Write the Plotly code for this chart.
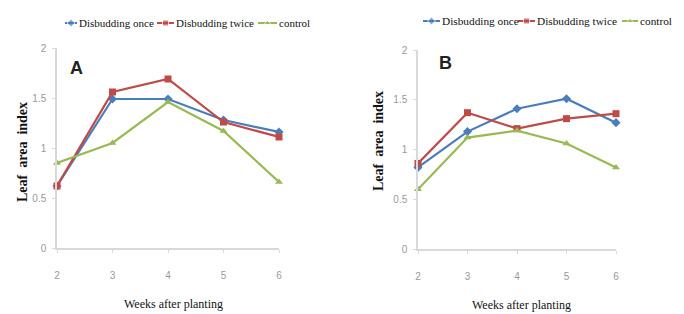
import plotly.graph_objects as go
from plotly.subplots import make_subplots

weeks = [2, 3, 4, 5, 6]
a_once = [0.62, 1.49, 1.49, 1.28, 1.16]
a_twice = [0.62, 1.56, 1.69, 1.26, 1.11]
a_control = [0.85, 1.05, 1.46, 1.17, 0.66]
b_once = [0.82, 1.18, 1.41, 1.51, 1.27]
b_twice = [0.86, 1.37, 1.21, 1.31, 1.36]
b_control = [0.60, 1.12, 1.19, 1.06, 0.82]
series_names = ["Disbudding once", "Disbudding twice", "control"]
y_ticks = [0, 0.5, 1, 1.5, 2]
y_ticklabels = ["0", "0.5", "1", "1.5", "2"]

colors = ["#4a7ebb", "#be4b48", "#98b954"]
symbols = ["diamond", "square", "triangle-up"]

W, H = 684, 314
fig = make_subplots(rows=1, cols=2)

for col, data in [(1, [a_once, a_twice, a_control]), (2, [b_once, b_twice, b_control])]:
    for i, ys in enumerate(data):
        fig.add_trace(go.Scatter(
            x=weeks, y=ys, mode="lines+markers", name=series_names[i],
            line=dict(color=colors[i], width=2.2),
            marker=dict(symbol=symbols[i], size=7, color=colors[i]),
            cliponaxis=False, showlegend=False), row=1, col=col)

def px(x):
    return x / W

def py(y):
    return 1 - y / H

# manual legends drawn on a full-page pixel axis
legend_rows = [
    (23, 11, [(65, 77), (157, 174), (258, 277)]),
    (21, 11.3, [(423, 440), (518, 535), (622, 638)]),
]
annotations = []
for legend_y, fsize, starts in legend_rows:
    for i, (lx, tx) in enumerate(starts):
        fig.add_trace(go.Scatter(
            x=[lx, (lx + tx) / 2, tx], y=[legend_y] * 3, mode="lines+markers",
            line=dict(color=colors[i], width=2),
            marker=dict(symbol=symbols[i], size=[0, 6, 0], color=colors[i]),
            showlegend=False, hoverinfo="skip", xaxis="x3", yaxis="y3", cliponaxis=False))
        annotations.append(dict(text=series_names[i], x=px(tx), y=py(legend_y), xref="paper", yref="paper",
                                xanchor="left", yanchor="middle", showarrow=False,
                                font=dict(family="Liberation Serif", size=fsize, color="#111")))

axis_common = dict(showgrid=False, zeroline=False, linecolor="#d9d9d9", linewidth=1.5,
                   ticks="outside", ticklen=3, tickcolor="#d9d9d9", automargin=False,
                   tickfont=dict(family="Liberation Sans Narrow, Liberation Sans", size=10, color="#999999"))
fig.update_xaxes(range=[2, 6], tickvals=weeks, ticklabelstandoff=14, **axis_common)
fig.update_yaxes(range=[0, 2], tickvals=y_ticks, ticktext=y_ticklabels, ticklabelstandoff=4, **axis_common)

title_font = dict(family="Liberation Serif", size=14, color="#111")
xt_font = dict(family="Liberation Serif", size=12, color="#111")
center = dict(xref="paper", yref="paper", xanchor="center", yanchor="middle", showarrow=False)
letter_font = dict(family="Liberation Sans Narrow, Liberation Sans", size=18, color="#222")
annotations += [
    dict(text="<b>Leaf  area  index</b>", x=px(22), y=py(152), textangle=-90, font=title_font, **center),
    dict(text="<b>Leaf  area  index</b>", x=px(378), y=py(141), textangle=-90, font=title_font, **center),
    dict(text="Weeks after planting", x=px(173), y=py(304), font=xt_font, **center),
    dict(text="Weeks after planting", x=px(521), y=py(305), font=xt_font, **center),
    dict(text="<b>A</b>", x=2.36, y=1.8, xref="x", yref="y", showarrow=False,
         xanchor="center", yanchor="middle", font=letter_font),
    dict(text="<b>B</b>", x=2.55, y=1.87, xref="x2", yref="y2", showarrow=False,
         xanchor="center", yanchor="middle", font=letter_font),
]

fig.update_layout(
    width=W, height=H,
    margin=dict(l=0, r=0, t=0, b=0, autoexpand=False),
    plot_bgcolor="rgba(0,0,0,0)", paper_bgcolor="white",
    showlegend=False,
    xaxis=dict(domain=[px(57), px(279)]),
    xaxis2=dict(domain=[px(418), px(616)]),
    yaxis=dict(domain=[py(248), py(48)]),
    yaxis2=dict(domain=[py(249), py(50)]),
    xaxis3=dict(domain=[0, 1], range=[0, W], visible=False, anchor="y3", fixedrange=True),
    yaxis3=dict(domain=[0, 1], range=[H, 0], visible=False, anchor="x3", fixedrange=True),
    annotations=annotations,
)

fig.write_html("out.html", config={"displayModeBar": False},
               post_script="document.body.style.margin='0';")
